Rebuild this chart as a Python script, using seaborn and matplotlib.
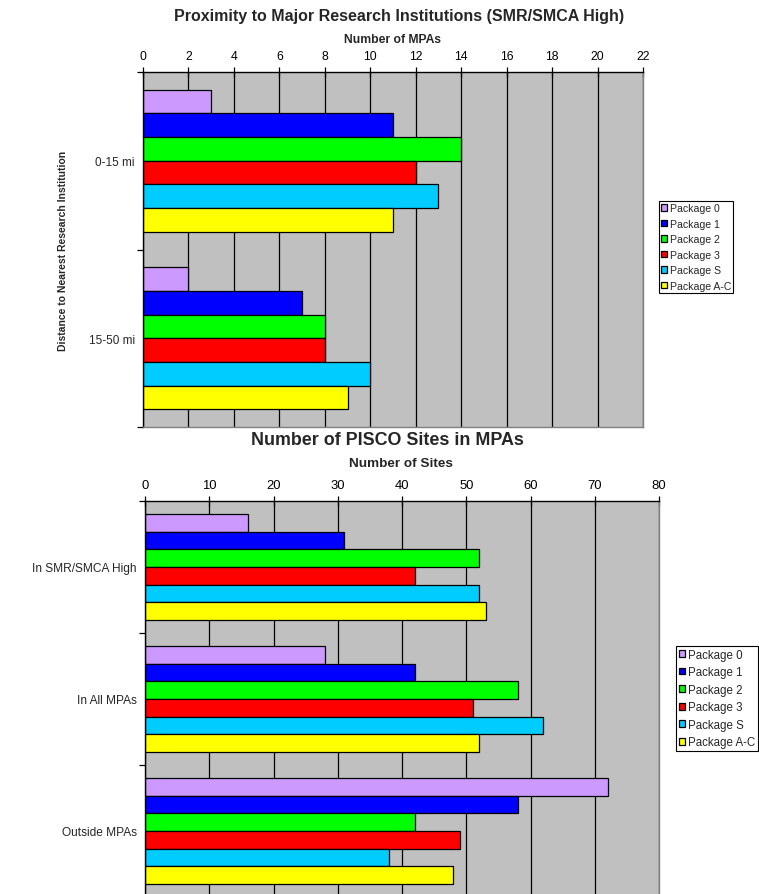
import matplotlib
matplotlib.use("Agg")
import matplotlib.pyplot as plt
import seaborn as sns
import pandas as pd

# ---------------- data ----------------
packages = ["Package 0", "Package 1", "Package 2", "Package 3", "Package S", "Package A-C"]
pkg_colors = ["#CC99FF", "#0000FF", "#00FF00", "#FF0000", "#00CCFF", "#FFFF00"]

# Chart 1: Proximity to Major Research Institutions
dist_categories = ["0-15 mi", "15-50 mi"]
dist_pkg0 = [3, 2]
dist_pkg1 = [11, 7]
dist_pkg2 = [14, 8]
dist_pkg3 = [12, 8]
dist_pkgS = [13, 10]
dist_pkgAC = [11, 9]
dist_ticks = list(range(0, 23, 2))

# Chart 2: Number of PISCO Sites in MPAs
site_categories = ["In SMR/SMCA High", "In All MPAs", "Outside MPAs"]
site_pkg0 = [16, 28, 72]
site_pkg1 = [31, 42, 58]
site_pkg2 = [52, 58, 42]
site_pkg3 = [42, 51, 49]
site_pkgS = [52, 62, 38]
site_pkgAC = [53, 52, 48]
site_ticks = list(range(0, 81, 10))


def long_df(cats, series):
    rows = []
    for pkg, vals in zip(packages, series):
        for c, v in zip(cats, vals):
            rows.append({"cat": c, "package": pkg, "value": v})
    return pd.DataFrame(rows)


df1 = long_df(dist_categories, [dist_pkg0, dist_pkg1, dist_pkg2, dist_pkg3, dist_pkgS, dist_pkgAC])
df2 = long_df(site_categories, [site_pkg0, site_pkg1, site_pkg2, site_pkg3, site_pkgS, site_pkgAC])

sns.set_theme(style="white")
plt.rcParams["font.family"] = ["Liberation Sans", "DejaVu Sans"]

W, H = 759, 895
fig = plt.figure(figsize=(W / 100, H / 100), dpi=100)


def px_axes(x0, y0, x1, y1):
    return fig.add_axes([x0 / W, 1 - y1 / H, (x1 - x0) / W, (y1 - y0) / H])


def style_axes(ax, df, cats, ticks, xmax, tick_fs, cat_fs):
    sns.barplot(data=df, y="cat", x="value", hue="package", order=cats,
                hue_order=packages, palette=pkg_colors, orient="h", width=0.8,
                edgecolor="black", linewidth=0.9, saturation=1, ax=ax)
    ax.set_facecolor("#C0C0C0")
    n = len(cats)
    ax.set_ylim(n - 0.5, -0.5)
    ax.set_xlim(0, xmax)
    ax.xaxis.tick_top()
    ax.xaxis.set_label_position("top")
    ax.set_xticks(ticks)
    ax.set_xticklabels([str(t) for t in ticks], fontsize=tick_fs)
    ax.tick_params(axis="x", direction="inout", length=7, width=0.9, colors="black",
                   pad=4, top=True, bottom=False)
    ax.set_yticks([i - 0.5 for i in range(n + 1)])
    ax.set_yticklabels([])
    ax.set_yticks(range(n), minor=True)
    ax.set_yticklabels(cats, minor=True, fontsize=cat_fs)
    ax.tick_params(axis="y", which="major", direction="out", length=4, width=0.9,
                   left=True, colors="black")
    ax.tick_params(axis="y", which="minor", length=0, pad=6, left=True)
    ax.grid(axis="x", color="black", linewidth=0.9)
    ax.grid(axis="y", visible=False)
    ax.set_axisbelow(True)
    for s in ["top", "left"]:
        ax.spines[s].set_color("black")
        ax.spines[s].set_linewidth(1.0)
    for s in ["bottom", "right"]:
        ax.spines[s].set_color("#808080")
        ax.spines[s].set_linewidth(1.0)
    ax.set_ylabel("")
    handles, labels = ax.get_legend_handles_labels()
    if ax.get_legend() is not None:
        ax.get_legend().remove()
    return handles, labels


# ---- Top chart ----
ax1 = px_axes(143, 73, 643, 428)
h1, l1 = style_axes(ax1, df1, dist_categories, dist_ticks, 22, 8.8, 8.5)
ax1.set_xlabel("Number of MPAs", fontsize=8.7, fontweight="bold")
ax1.xaxis.set_label_coords((393 - 143) / 500, (428 - 40) / 355)
ax1.xaxis.label.set_va("center")
ax1.set_ylabel("Distance to Nearest Research Institution", fontsize=7.5, fontweight="bold")
ax1.yaxis.set_label_coords((63 - 143) / 500, 0.5)
ax1.yaxis.label.set_va("center")
fig.text(399 / W, 1 - 17 / H, "Proximity to Major Research Institutions (SMR/SMCA High)",
         ha="center", va="center", fontsize=11.5, fontweight="bold")
leg1 = fig.legend(h1, l1, loc="upper left", bbox_to_anchor=(659 / W, 1 - 202 / H),
                  borderaxespad=0, fontsize=7.6, frameon=True, fancybox=False,
                  edgecolor="black", framealpha=1, handlelength=0.55, handleheight=0.55,
                  handletextpad=0.25, labelspacing=0.52, borderpad=0.22)
leg1.get_frame().set_linewidth(0.8)

# ---- Bottom chart ----
ax2 = px_axes(145, 502, 659, 898)
h2, l2 = style_axes(ax2, df2, site_categories, site_ticks, 80, 9.4, 8.6)
ax2.set_xlabel("Number of Sites", fontsize=9.7, fontweight="bold")
ax2.xaxis.set_label_coords((401 - 145) / 514, (898 - 464) / 396)
ax2.xaxis.label.set_va("center")
fig.text(387 / W, 1 - 441 / H, "Number of PISCO Sites in MPAs",
         ha="center", va="center", fontsize=12.9, fontweight="bold")
leg2 = fig.legend(h2, l2, loc="upper left", bbox_to_anchor=(676 / W, 1 - 647 / H),
                  borderaxespad=0, fontsize=8.3, frameon=True, fancybox=False,
                  edgecolor="black", framealpha=1, handlelength=0.55, handleheight=0.55,
                  handletextpad=0.25, labelspacing=0.48, borderpad=0.22)
leg2.get_frame().set_linewidth(0.8)

fig.savefig("out.png", dpi=100, facecolor="white")
